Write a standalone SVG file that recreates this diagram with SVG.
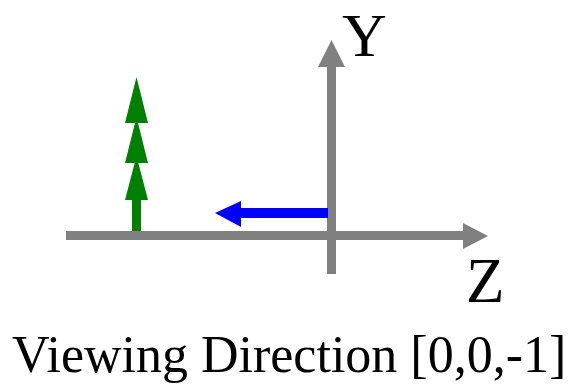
<svg xmlns="http://www.w3.org/2000/svg" width="587" height="385" viewBox="0 0 587 385">
<rect width="587" height="385" fill="#fff"/>
<g id="connectors">
<g id="z-axis" fill="#808080">
<rect x="66" y="231" width="398" height="9"/>
<polygon points="463,223 488,236 463,249"/>
</g>
<g id="y-axis" fill="#808080">
<rect x="327" y="66" width="9" height="208"/>
<polygon points="318,67 331.5,40 345,67"/>
</g>
<g id="view-dir" fill="#0000ff">
<rect x="240" y="208" width="88" height="10"/>
<polygon points="241,201 215,213 241,227"/>
</g>
<g id="up-vector" fill="#008000">
<rect x="132" y="195" width="9" height="36"/>
<polygon points="125,123 136.5,77 148,123"/>
<polygon points="125,163 136.5,117 148,163"/>
<polygon points="125,200 136.5,156 148,200"/>
</g>
</g>
<g id="label-y"><text x="342" y="56" font-size="62" font-family="Liberation Serif">Y</text></g>
<g id="label-z"><text x="466" y="302" font-size="63" font-family="Liberation Serif">Z</text></g>
<g id="caption"><text x="12" y="372" font-size="52" font-family="Liberation Serif">Viewing Direction [0,0,-1]</text></g>
</svg>
